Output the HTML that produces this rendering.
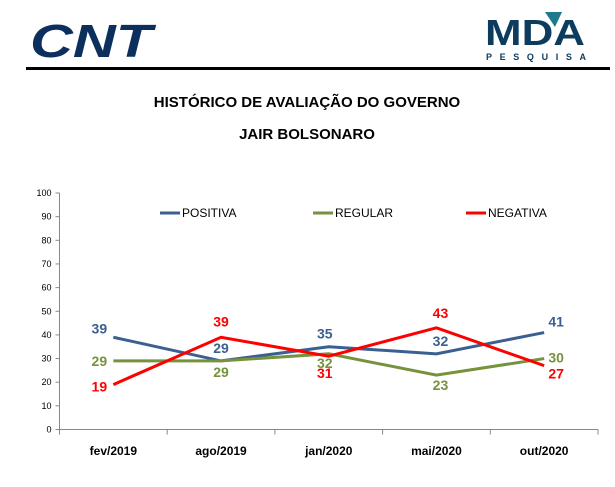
<!DOCTYPE html>
<html><head><meta charset="utf-8"><style>
body{margin:0;width:615px;height:482px;background:#fff;overflow:hidden;font-family:"Liberation Sans",sans-serif}
</style></head><body>
<svg width="615" height="482" xmlns="http://www.w3.org/2000/svg">
<g><text x="30" y="57" font-size="46" font-weight="bold" font-style="italic" fill="#0d2f5e" textLength="122" lengthAdjust="spacingAndGlyphs" font-family="Liberation Sans, sans-serif">CNT</text></g>
<g>
<text x="485" y="45" font-size="36" font-weight="bold" fill="#0d3b5e" textLength="100" lengthAdjust="spacingAndGlyphs">MDA</text>
<polygon points="545,12 562,12 555,27" fill="#1f7a8c"/>
<text x="486" y="60" font-size="9" font-weight="bold" fill="#0d3b5e" textLength="100" lengthAdjust="spacing">PESQUISA</text></g>
<rect x="26" y="67" width="584" height="3" fill="#000"/>
<text x="307" y="107" font-size="15" font-weight="bold" text-anchor="middle">HISTÓRICO DE AVALIAÇÃO DO GOVERNO</text>
<text x="307" y="139" font-size="15" font-weight="bold" text-anchor="middle">JAIR BOLSONARO</text>
<g id="axes"></g><g id="series"></g><g id="legend"></g>
</svg>
<script>
const categories=["fev/2019","ago/2019","jan/2020","mai/2020","out/2020"];
const positiva=[39,29,35,32,41];
const regular=[29,29,32,23,30];
const negativa=[19,39,31,43,27];
const yTicks=[0,10,20,30,40,50,60,70,80,90,100];
const NS="http://www.w3.org/2000/svg";
const x0=59.5,x1=598,y0=429.5,y1=193;
const bw=(x1-x0)/categories.length;
const X=i=>x0+bw*(i+0.5);
const Y=v=>y0-(v/100)*(y0-y1);
function mk(t,a,p){const e=document.createElementNS(NS,t);for(const k in a)e.setAttribute(k,a[k]);p.appendChild(e);return e;}
const ax=document.getElementById('axes');
let l=mk('line',{x1:x0,y1:y0,x2:x0,y2:y1,stroke:'#888'},ax);


l=mk('line',{x1:x0,y1:y0,x2:x1,y2:y0,stroke:'#888'},ax);


yTicks.forEach(v=>{
 mk('line',{x1:x0-4,x2:x0,y1:Y(v),y2:Y(v),stroke:'#888'},ax);
 const t=mk('text',{x:x0-8,y:Y(v)+3,'font-size':9,'text-anchor':'end',fill:'#000'},ax);t.textContent=v;
 
 
});
for(let i=0;i<=categories.length;i++)mk('line',{x1:x0+bw*i,x2:x0+bw*i,y1:y0,y2:y0+5,stroke:'#888'},ax);
categories.forEach((c,i)=>{const t=mk('text',{x:X(i),y:455,'font-size':12,'font-weight':'bold','text-anchor':'middle'},ax);t.textContent=c;
 
 });
const sg=document.getElementById('series');
const series=[
 {name:'positiva',data:positiva,color:'#3a5f91',off:[[-14,-4],[0,-8],[-4,-8],[4,-8],[12,-6]]},
 {name:'regular',data:regular,color:'#76923c',off:[[-14,5],[0,16],[-4,14],[4,15],[12,4]]},
 {name:'negativa',data:negativa,color:'#ff0000',off:[[-14,7],[0,-11],[-4,22],[4,-10],[12,13]]}];
series.forEach(s=>{
 const p=mk('polyline',{points:s.data.map((v,i)=>X(i)+','+Y(v)).join(' '),fill:'none',stroke:s.color,'stroke-width':3},sg);
 
 
 s.data.forEach((v,i)=>{
  const t=mk('text',{x:X(i)+s.off[i][0],y:Y(v)+s.off[i][1],'font-size':14,'font-weight':'bold','text-anchor':'middle',fill:s.color},sg);
  t.textContent=v;
  
  
 });
});
const lg=document.getElementById('legend');
[['POSITIVA','#3a5f91',160],['REGULAR','#76923c',313],['NEGATIVA','#ff0000',466]].forEach(([n,c,x])=>{
 const g=mk('g',{},lg);
 
 
 mk('line',{x1:x,x2:x+20,y1:213,y2:213,stroke:c,'stroke-width':3},g);
 const t=mk('text',{x:x+22,y:217,'font-size':12},g);t.textContent=n;
});
</script>
</body></html>
